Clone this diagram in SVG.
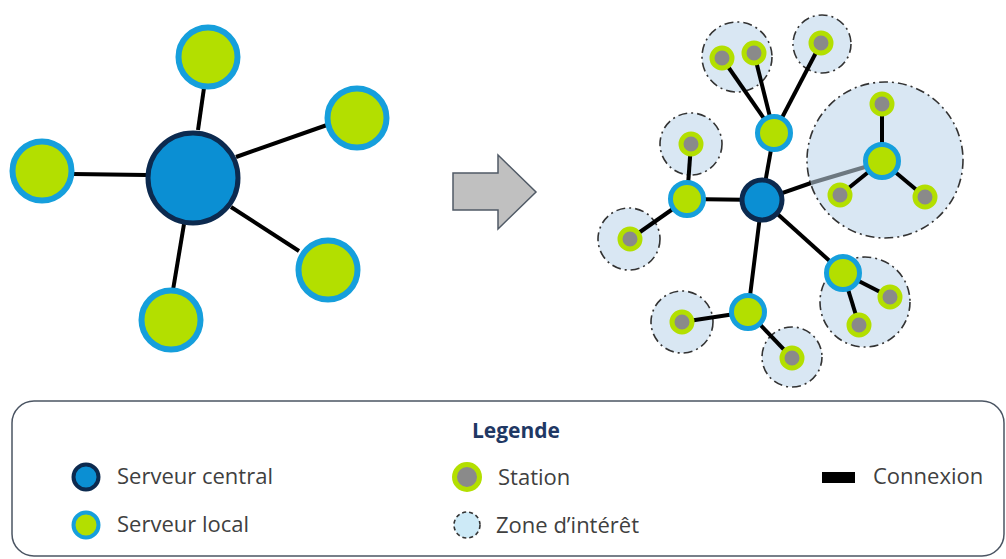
<svg xmlns="http://www.w3.org/2000/svg" width="1006" height="559" viewBox="0 0 1006 559">
<style>
.central{fill:#0b8fd3;stroke:#0c2a4f;stroke-width:5}
.local{fill:#b3df00;stroke:#169fdc;stroke-width:6}
.localR{fill:#b3df00;stroke:#169fdc;stroke-width:5}
.sta{fill:#8a8a8a;stroke:#b3df00;stroke-width:5}
.zone{fill:#d9e7f3;stroke:#333;stroke-width:1.6;stroke-dasharray:9 4 2 4}
.ln{stroke:#000;stroke-width:4;fill:none}
.lbl{font-family:"Open Sans","Liberation Sans",sans-serif;font-size:22px;fill:#404040}
</style>
<rect width="1006" height="559" fill="#fff"/>

<!-- left: star -->
<g id="connectors-left">
<line class="ln" x1="198" y1="130" x2="204" y2="88"/>
<line class="ln" x1="236" y1="157" x2="327" y2="125"/>
<line class="ln" x1="73" y1="174" x2="146" y2="175"/>
<line class="ln" x1="231" y1="207" x2="299" y2="251"/>
<line class="ln" x1="184" y1="224" x2="173" y2="290"/>
</g>
<g id="central-left"><circle class="central" cx="193" cy="178" r="45"/></g>
<g id="local-top"><circle class="local" cx="208" cy="57" r="29.5"/></g>
<g id="local-right"><circle class="local" cx="357" cy="118" r="29.5"/></g>
<g id="local-left"><circle class="local" cx="42" cy="171" r="29.5"/></g>
<g id="local-lowright"><circle class="local" cx="328" cy="270" r="29.5"/></g>
<g id="local-bottom"><circle class="local" cx="171" cy="320" r="29.5"/></g>

<!-- arrow -->
<g id="arrow">
<polygon points="453,173 498,173 498,155 536,192 498,229 498,210 453,210" fill="#c0c0c0" stroke="#505a66" stroke-width="1.5"/>
</g>

<!-- right: zones -->
<g id="zones">
<circle class="zone" cx="737" cy="57" r="35"/>
<circle class="zone" cx="822" cy="44" r="29"/>
<circle class="zone" cx="691" cy="144" r="31"/>
<circle class="zone" cx="885" cy="160" r="78"/>
<circle class="zone" cx="629" cy="239" r="31"/>
<circle class="zone" cx="865" cy="302" r="45"/>
<circle class="zone" cx="682" cy="322" r="31"/>
<circle class="zone" cx="792" cy="357" r="30"/>
</g>

<g id="connectors-right">
<line class="ln" x1="774" y1="133" x2="722" y2="58"/>
<line class="ln" x1="774" y1="133" x2="754" y2="53"/>
<line class="ln" x1="774" y1="133" x2="821" y2="43"/>
<line class="ln" x1="774" y1="133" x2="762" y2="200"/>
<line class="ln" x1="687" y1="199" x2="762" y2="200"/>
<line class="ln" x1="687" y1="199" x2="630" y2="239"/>
<line class="ln" x1="687" y1="199" x2="691" y2="144"/>
<line class="ln" x1="762" y1="200" x2="811" y2="183"/>
<line x1="811" y1="183" x2="865" y2="167" stroke="#6d7880" stroke-width="4"/>
<line class="ln" x1="882" y1="161" x2="882" y2="104"/>
<line class="ln" x1="882" y1="161" x2="840" y2="195"/>
<line class="ln" x1="882" y1="161" x2="925" y2="197"/>
<line class="ln" x1="762" y1="200" x2="843" y2="273"/>
<line class="ln" x1="843" y1="273" x2="890" y2="297"/>
<line class="ln" x1="843" y1="273" x2="859" y2="325"/>
<line class="ln" x1="762" y1="200" x2="748" y2="312"/>
<line class="ln" x1="748" y1="312" x2="682" y2="322"/>
<line class="ln" x1="748" y1="312" x2="792" y2="358"/>
</g>

<g id="central-right"><circle class="central" cx="762" cy="200" r="20"/></g>
<g id="local-r-top"><circle class="localR" cx="774" cy="133" r="16.5"/></g>
<g id="local-r-left"><circle class="localR" cx="687" cy="199" r="16.5"/></g>
<g id="local-r-zone"><circle class="localR" cx="882" cy="161" r="16.5"/></g>
<g id="local-r-lowright"><circle class="localR" cx="843" cy="273" r="16.5"/></g>
<g id="local-r-bottom"><circle class="localR" cx="748" cy="312" r="16.5"/></g>

<g id="stations">
<circle class="sta" cx="722" cy="58" r="10"/>
<circle class="sta" cx="754" cy="53" r="10"/>
<circle class="sta" cx="821" cy="43" r="10"/>
<circle class="sta" cx="691" cy="144" r="10"/>
<circle class="sta" cx="882" cy="104" r="10"/>
<circle class="sta" cx="840" cy="195" r="10"/>
<circle class="sta" cx="925" cy="197" r="10"/>
<circle class="sta" cx="630" cy="239" r="10"/>
<circle class="sta" cx="890" cy="297" r="10"/>
<circle class="sta" cx="859" cy="325" r="10"/>
<circle class="sta" cx="682" cy="322" r="10"/>
<circle class="sta" cx="792" cy="358" r="10"/>
</g>

<!-- legend -->
<g id="legend">
<rect x="12" y="401" width="992" height="155" rx="22" fill="#fff" stroke="#4b5563" stroke-width="1.5"/>
<text x="516" y="438" text-anchor="middle" font-family="'Open Sans','Liberation Sans',sans-serif" font-size="21" font-weight="bold" fill="#1f3864">Legende</text>
<circle class="central" cx="86" cy="477" r="12.5" style="stroke-width:4"/>
<text class="lbl" x="117" y="484">Serveur central</text>
<circle class="local" cx="86" cy="525" r="12.5" style="stroke-width:4"/>
<text class="lbl" x="117" y="532">Serveur local</text>
<circle class="sta" cx="467" cy="477" r="12.5" style="stroke-width:5"/>
<text class="lbl" x="498" y="485">Station</text>
<circle cx="467" cy="525" r="13" fill="#cdeaf7" stroke="#333" stroke-width="1.6" stroke-dasharray="4 3"/>
<text class="lbl" x="496" y="533">Zone d’intérêt</text>
<rect x="822" y="472" width="33" height="11" fill="#000"/>
<text class="lbl" x="873" y="484">Connexion</text>
</g>
</svg>
